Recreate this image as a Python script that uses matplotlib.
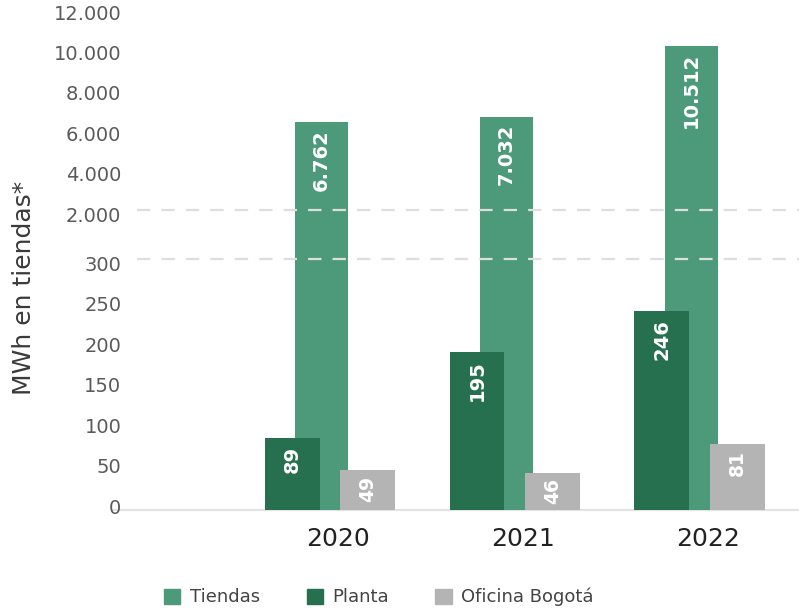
import numpy as np
import matplotlib
matplotlib.use("Agg")
import matplotlib.pyplot as plt
import matplotlib.transforms as mtransforms
from matplotlib.patches import Patch

# ---- data ----
years = ["2020", "2021", "2022"]
tiendas = [6762, 7032, 10512]
planta = [89, 195, 246]
oficina = [49, 46, 81]
tiendas_labels = ["6.762", "7.032", "10.512"]
planta_labels = ["89", "195", "246"]
oficina_labels = ["49", "46", "81"]
yticks = [0, 50, 100, 150, 200, 250, 300, 2000, 4000, 6000, 8000, 10000, 12000]
break_values = [2000, 300]

c_tiendas = "#4c9a7a"
c_planta = "#26704f"
c_oficina = "#b4b4b4"

plt.rcParams['font.family'] = ['DejaVu Sans']

def fwd(v):
    v = np.asarray(v, dtype=float)
    return np.where(v <= 300, v / 50.0,
                    np.where(v <= 2000, 6 + (v - 300) / 1700.0 * 1.2,
                             7.2 + (v - 2000) / 2000.0))

def inv(u):
    u = np.asarray(u, dtype=float)
    return np.where(u <= 6, u * 50.0,
                    np.where(u <= 7.2, 300 + (u - 6) / 1.2 * 1700.0,
                             2000 + (u - 7.2) * 2000.0))

fig = plt.figure(figsize=(7.99, 6.13), dpi=100)
ax = fig.add_axes([113 / 799, 1 - 510 / 613, 1 - 113 / 799, (510 - 16) / 613])
ax.set_yscale('function', functions=(fwd, inv))
ax.set_ylim(0, 12000)

x = np.arange(len(years))
ax.set_xlim(-0.968, 2.741)

w_p, w_t, w_o = 0.297, 0.289, 0.297
off_t, off_o = 0.16, 0.408

bt = ax.bar(x + off_t, tiendas, width=w_t, color=c_tiendas, zorder=2)
bp = ax.bar(x, planta, width=w_p, color=c_planta, zorder=3)
bo = ax.bar(x + off_o, oficina, width=w_o, color=c_oficina, zorder=3)

def label_bars(bars, labels, offset, size):
    for b, lab in zip(bars, labels):
        ax.annotate(lab, (b.get_x() + b.get_width() / 2, b.get_height()),
                    xytext=(0, -offset), textcoords='offset points',
                    rotation=90, ha='center', va='top', color='white',
                    fontsize=size, fontweight='bold', zorder=6)

label_bars(bt, tiendas_labels, 5, 14)
label_bars(bp, planta_labels, 6, 14)
label_bars(bo, oficina_labels, 4, 13.5)

# dashed break lines (drawn slightly above the tick labels, as in the original)
up = mtransforms.ScaledTranslation(0, 8 / 100, fig.dpi_scale_trans)
for yv in break_values:
    ax.plot([0.035, 1.0], [yv, yv], color='#dedede', lw=1.6,
            dashes=(6, 5), zorder=5, clip_on=False,
            transform=ax.get_yaxis_transform() + up)

# baseline
ax.axhline(0, color='#e3e3e3', lw=1.5, zorder=1, clip_on=False)

for s in ax.spines.values():
    s.set_visible(False)

ax.set_yticks(yticks)
ax.set_yticklabels([f"{v:,}".replace(",", ".") for v in yticks])
ax.tick_params(axis='y', length=0, pad=-6, labelsize=14, labelcolor='#5a5a5a')
off = mtransforms.ScaledTranslation(0, 4 / 100, fig.dpi_scale_trans)
for lab in ax.get_yticklabels():
    lab.set_transform(lab.get_transform() + off)
ax.yaxis.set_minor_locator(matplotlib.ticker.NullLocator())

ax.set_xticks(x + 0.25)
ax.set_xticklabels(years)
ax.tick_params(axis='x', length=0, pad=12, labelsize=18, labelcolor='#222222')

fig.text(24 / 799, 1 - 288 / 613, "MWh en tiendas*", rotation=90, fontsize=18,
         color='#3a3a3a', ha='center', va='center')

handles = [Patch(color=c_tiendas, label="Tiendas"),
           Patch(color=c_planta, label="Planta"),
           Patch(color=c_oficina, label="Oficina Bogotá")]
leg = fig.legend(handles=handles, loc='center', bbox_to_anchor=(0.474, 0.026),
                 ncol=3, frameon=False, fontsize=13, handlelength=0.9,
                 handleheight=0.9, columnspacing=2.6, handletextpad=0.5)
for t in leg.get_texts():
    t.set_color('#444444')

fig.savefig("out.png", dpi=100)
